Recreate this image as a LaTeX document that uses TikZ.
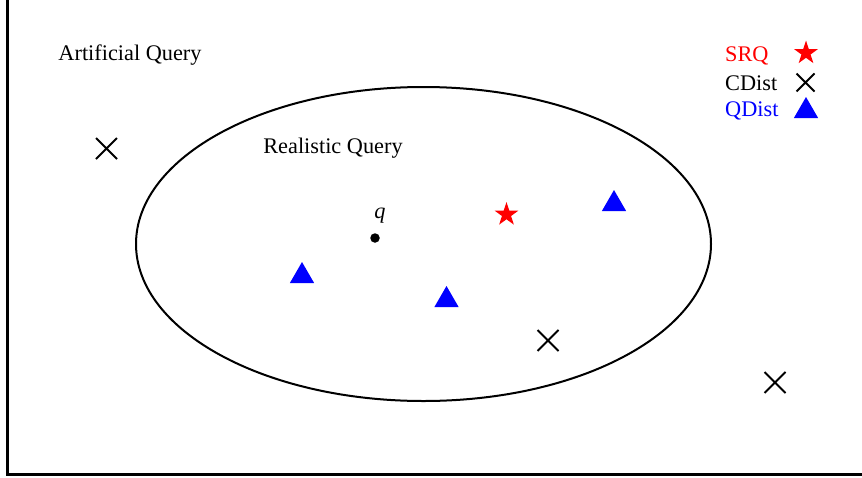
\documentclass[tikz,border=0pt]{standalone}
\usepackage{fontspec}
\setmainfont{Liberation Serif}
\usetikzlibrary{shapes.geometric,shapes.misc}
\begin{document}
\begin{tikzpicture}[x=1pt,y=-1pt,
  lbl/.style={font=\fontsize{22.3}{24}\selectfont, inner sep=0pt},
  xmark/.style={draw=black, cross out, line width=2pt, minimum size=19pt, inner sep=0pt},
  tri/.style={regular polygon, regular polygon sides=3, fill=blue, minimum size=28pt, inner sep=0pt},
  starm/.style={star, star points=5, star point ratio=2.6, fill=red, minimum size=25pt, inner sep=0pt}]
\useasboundingbox (0,0) rectangle (862,477);
\draw[line width=2.5pt] (7.5,0) -- (7.5,474.5) -- (862,474.5);
\draw[line width=2pt] (423.5,244) ellipse [x radius=287.5, y radius=157];
\node[lbl] (art) at (130,55.5) {Artificial Query};
\node[lbl] (real) at (333,148.5) {Realistic Query};
\node[lbl, anchor=base] (ql) at (380,218) {\textit{q}};
\node[circle, fill=black, minimum size=9.5pt, inner sep=0pt] (q) at (375,238) {};
\node[xmark] (x1) at (106.5,148.5) {};
\node[xmark] (x2) at (548,340.5) {};
\node[xmark] (x3) at (775,382.5) {};
\node[starm] (s1) at (506.5,214.5) {};
\node[tri] (t1) at (614,204) {};
\node[tri] (t2) at (302,276) {};
\node[tri] (t3) at (446.5,300) {};
% legend
\node[lbl, anchor=west, text=red] (l1) at (725,55.5) {SRQ};
\node[lbl, anchor=west] (l2) at (725,83.5) {CDist};
\node[lbl, anchor=west, text=blue] (l3) at (725,110.5) {QDist};
\node[starm] (ls) at (806,53) {};
\node[xmark, minimum size=16pt] (lx) at (805.5,82.5) {};
\node[tri] (lt) at (806,111) {};
\end{tikzpicture}
\end{document}
